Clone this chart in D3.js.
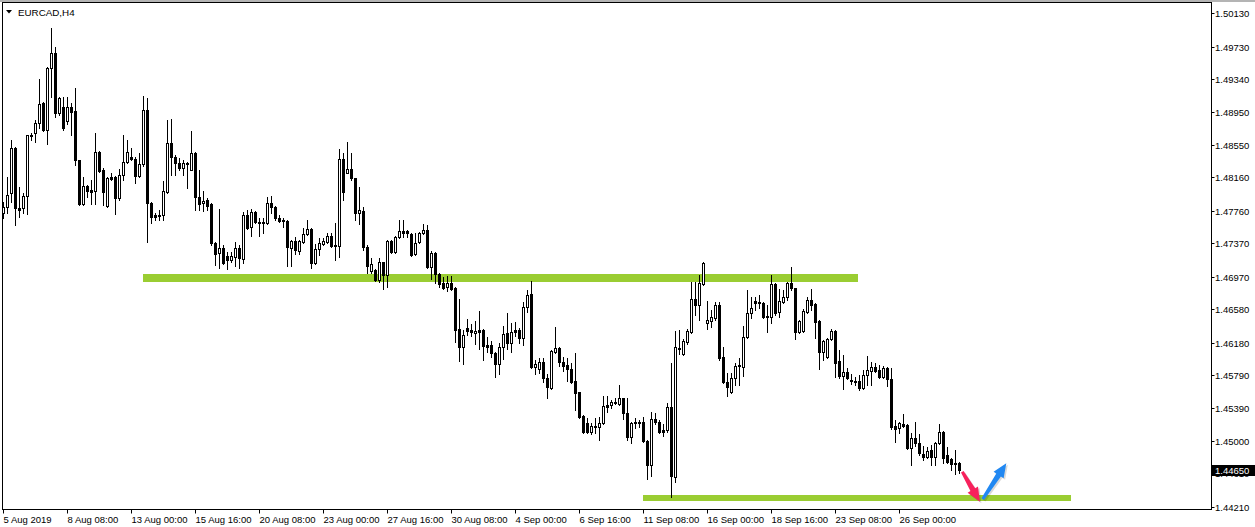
<!DOCTYPE html>
<html>
<head>
<meta charset="utf-8">
<script src="https://cdn.jsdelivr.net/npm/d3@7"></script>
<style>
  body { margin: 0; background: #fff; }
  svg { display: block; font-family: "Liberation Sans", Arial, sans-serif; }
</style>
</head>
<body>
<svg id="chart" width="1255" height="527"></svg>
<script>
// EURCAD H4 candles, first bar 5 Aug 2019 16:00, 240 bars
var opens = [
1.47734,1.47806,1.47974,1.48514,1.47794,1.47794,1.47938,1.48658,1.48694,1.48814,
1.49054,1.48730,1.49474,1.49654,1.48934,1.49006,1.48838,1.49006,1.48958,1.48370,
1.47842,1.48058,1.48010,1.47998,1.48466,1.48250,1.47818,1.48166,1.48166,1.47914,
1.48190,1.48346,1.48406,1.48382,1.48178,1.48322,1.48970,1.47854,1.47710,1.47698,
1.47710,1.47986,1.48574,1.48406,1.48334,1.48274,1.48334,1.48250,1.48454,1.47926,
1.47854,1.47890,1.47842,1.47374,1.47254,1.47314,1.47218,1.47170,1.47206,1.47314,
1.47182,1.47710,1.47566,1.47746,1.47626,1.47614,1.47614,1.47854,1.47806,1.47674,
1.47650,1.47638,1.47314,1.47398,1.47278,1.47386,1.47482,1.47542,1.47134,1.47302,
1.47362,1.47386,1.47458,1.47350,1.47338,1.48382,1.48214,1.48262,1.48154,1.47734,
1.47758,1.47326,1.47038,1.47050,1.46930,1.47146,1.46990,1.47398,1.47266,1.47446,
1.47518,1.47518,1.47482,1.47242,1.47386,1.47494,1.47530,1.47086,1.47254,1.47002,
1.46894,1.46846,1.46894,1.46834,1.46342,1.46126,1.46354,1.46330,1.46294,1.46330,
1.46330,1.46150,1.46150,1.46054,1.45922,1.46126,1.46294,1.46174,1.46330,1.46330,
1.46234,1.46606,1.46762,1.45886,1.45862,1.45946,1.45754,1.45634,1.46066,1.46114,
1.45946,1.45910,1.45862,1.45718,1.45586,1.45298,1.45214,1.45106,1.45178,1.45166,
1.45214,1.45430,1.45430,1.45466,1.45442,1.45514,1.45334,1.45046,1.45226,1.45226,
1.45226,1.44998,1.44710,1.45262,1.45226,1.45130,1.45130,1.45406,1.44566,1.46102,
1.46042,1.46186,1.46306,1.46702,1.46630,1.46882,1.46414,1.46438,1.46474,1.46630,
1.46006,1.45706,1.45586,1.45754,1.45898,1.45886,1.46246,1.46534,1.46678,1.46666,
1.46654,1.46498,1.46486,1.46882,1.46546,1.46666,1.46726,1.46894,1.46834,1.46306,
1.46318,1.46546,1.46690,1.46642,1.46438,1.46066,1.46006,1.46222,1.46318,1.45958,
1.45778,1.45826,1.45730,1.45718,1.45718,1.45634,1.45790,1.45838,1.45886,1.45850,
1.45766,1.45874,1.45742,1.45178,1.45154,1.45202,1.45190,1.44914,1.45034,1.44974,
1.44842,1.44806,1.44890,1.44806,1.44974,1.45106,1.44830,1.44782,1.44734,1.44734
];
var highs = [
1.47866,1.48166,1.48610,1.48526,1.48046,1.47974,1.48670,1.48694,1.48850,1.49342,
1.49066,1.49486,1.49954,1.49726,1.49126,1.49126,1.49126,1.49054,1.49234,1.48370,
1.48166,1.48070,1.48130,1.48694,1.48478,1.48274,1.48166,1.48214,1.48178,1.48262,
1.48670,1.48610,1.48514,1.48406,1.48454,1.49138,1.49114,1.47866,1.47734,1.47770,
1.48118,1.48850,1.48862,1.48430,1.48394,1.48370,1.48346,1.48718,1.48466,1.48250,
1.47998,1.47914,1.47854,1.47386,1.47782,1.47350,1.47266,1.47266,1.47386,1.47350,
1.47746,1.47770,1.47782,1.47758,1.47674,1.47674,1.47926,1.47938,1.47818,1.47710,
1.47674,1.47650,1.47410,1.47446,1.47410,1.47554,1.47650,1.47554,1.47362,1.47434,
1.47434,1.47494,1.47494,1.47614,1.48502,1.48454,1.48586,1.48454,1.48154,1.48046,
1.47806,1.47350,1.47194,1.47062,1.47194,1.47146,1.47410,1.47410,1.47458,1.47650,
1.47650,1.47530,1.47494,1.47494,1.47506,1.47602,1.47590,1.47278,1.47266,1.47014,
1.46966,1.46978,1.46978,1.46846,1.46702,1.46330,1.46462,1.46402,1.46438,1.46558,
1.46342,1.46246,1.46198,1.46066,1.46174,1.46378,1.46534,1.46414,1.46426,1.46354,
1.46666,1.46810,1.46918,1.45970,1.45994,1.45994,1.45802,1.46090,1.46366,1.46126,
1.46006,1.45994,1.45934,1.46054,1.45586,1.45310,1.45274,1.45214,1.45274,1.45286,
1.45538,1.45538,1.45490,1.45514,1.45670,1.45514,1.45514,1.45226,1.45274,1.45250,
1.45286,1.45010,1.45346,1.45334,1.45250,1.45202,1.45454,1.45934,1.46318,1.46330,
1.46222,1.46342,1.46906,1.46906,1.46990,1.47146,1.46678,1.46570,1.46666,1.46666,
1.46126,1.45814,1.45814,1.45934,1.45994,1.46378,1.46810,1.46726,1.46726,1.46750,
1.46666,1.46630,1.46990,1.46894,1.46822,1.46810,1.46906,1.47086,1.46834,1.46450,
1.46582,1.46726,1.46822,1.46654,1.46450,1.46210,1.46234,1.46342,1.46330,1.46090,
1.46030,1.45874,1.45802,1.45766,1.45790,1.45850,1.46018,1.45946,1.45934,1.45910,
1.45898,1.45886,1.45874,1.45250,1.45226,1.45322,1.45202,1.45094,1.45226,1.45082,
1.44938,1.44926,1.44950,1.44986,1.45202,1.45118,1.44926,1.44794,1.44890,1.44746
];
var lows = [
1.47674,1.47734,1.47866,1.47590,1.47686,1.47734,1.47722,1.48610,1.48586,1.48754,
1.48718,1.48562,1.49126,1.48886,1.48910,1.48730,1.48802,1.48670,1.48310,1.47830,
1.47830,1.47926,1.47842,1.47842,1.48226,1.47830,1.47806,1.48130,1.47722,1.47890,
1.48130,1.48334,1.48370,1.48094,1.48166,1.48298,1.47386,1.47614,1.47650,1.47650,
1.47650,1.47974,1.48190,1.48190,1.48250,1.48190,1.48034,1.48250,1.47770,1.47770,
1.47758,1.47770,1.47350,1.47110,1.47074,1.47122,1.47062,1.47146,1.47098,1.47074,
1.47134,1.47542,1.47458,1.47614,1.47458,1.47494,1.47602,1.47734,1.47650,1.47626,
1.47566,1.47098,1.47098,1.47242,1.47242,1.47374,1.47470,1.47074,1.47122,1.47230,
1.47350,1.47374,1.47326,1.47170,1.47206,1.47890,1.48214,1.48130,1.47650,1.47602,
1.47290,1.47014,1.47014,1.46918,1.46906,1.46822,1.46846,1.47254,1.47254,1.47434,
1.47446,1.47446,1.47218,1.47230,1.47374,1.47482,1.47074,1.46942,1.46894,1.46846,
1.46822,1.46798,1.46810,1.46186,1.45958,1.45922,1.46270,1.46258,1.46162,1.46102,
1.45970,1.46066,1.46006,1.45766,1.45802,1.45982,1.46102,1.46066,1.46258,1.46174,
1.46150,1.46546,1.45874,1.45802,1.45814,1.45706,1.45514,1.45622,1.46054,1.45898,
1.45838,1.45718,1.45694,1.45370,1.45274,1.45094,1.45094,1.45082,1.45094,1.45010,
1.45202,1.45346,1.45394,1.45442,1.45430,1.45262,1.45010,1.44974,1.45154,1.45166,
1.44986,1.44542,1.44578,1.45202,1.45094,1.45058,1.45106,1.44326,1.44506,1.46042,
1.46030,1.46162,1.46294,1.46510,1.46450,1.46870,1.46342,1.46366,1.46450,1.45970,
1.45694,1.45538,1.45574,1.45670,1.45670,1.45778,1.46234,1.46474,1.46570,1.46594,
1.46474,1.46306,1.46414,1.46510,1.46486,1.46654,1.46690,1.46810,1.46222,1.46294,
1.46306,1.46534,1.46570,1.46234,1.45862,1.45970,1.45994,1.46210,1.45766,1.45754,
1.45622,1.45742,1.45682,1.45670,1.45610,1.45622,1.45670,1.45670,1.45826,1.45754,
1.45754,1.45658,1.45142,1.44986,1.45094,1.45166,1.44902,1.44710,1.44938,1.44830,
1.44770,1.44794,1.44710,1.44710,1.44962,1.44734,1.44734,1.44650,1.44602,1.44614
];
var closes = [
1.47806,1.47950,1.48514,1.47794,1.47770,1.47938,1.48670,1.48670,1.48814,1.49042,
1.48730,1.49474,1.49654,1.48934,1.49114,1.48754,1.49006,1.48946,1.48370,1.47842,
1.48058,1.47998,1.47986,1.48466,1.48238,1.47986,1.48154,1.48142,1.47914,1.48190,
1.48346,1.48466,1.48382,1.48178,1.48322,1.48970,1.47854,1.47686,1.47686,1.47710,
1.47998,1.48574,1.48406,1.48334,1.48274,1.48334,1.48322,1.48454,1.47926,1.47842,
1.47878,1.47818,1.47374,1.47242,1.47314,1.47134,1.47170,1.47218,1.47314,1.47194,
1.47710,1.47554,1.47746,1.47626,1.47614,1.47626,1.47854,1.47806,1.47674,1.47638,
1.47638,1.47326,1.47398,1.47290,1.47398,1.47482,1.47542,1.47134,1.47302,1.47374,
1.47398,1.47458,1.47338,1.47338,1.48382,1.47986,1.48262,1.48154,1.47734,1.47770,
1.47326,1.47098,1.47122,1.46930,1.47146,1.46990,1.47398,1.47266,1.47446,1.47518,
1.47494,1.47494,1.47230,1.47374,1.47494,1.47530,1.47086,1.47254,1.47002,1.46882,
1.46834,1.46894,1.46822,1.46330,1.46126,1.46270,1.46318,1.46306,1.46318,1.46306,
1.46138,1.46126,1.46054,1.45922,1.46126,1.46282,1.46174,1.46306,1.46306,1.46234,
1.46606,1.46750,1.45886,1.45922,1.45946,1.45754,1.45646,1.46078,1.46114,1.45946,
1.45898,1.45862,1.45706,1.45574,1.45286,1.45106,1.45106,1.45178,1.45166,1.45214,
1.45418,1.45406,1.45466,1.45454,1.45514,1.45334,1.45046,1.45214,1.45214,1.45214,
1.44998,1.44710,1.45262,1.45226,1.45106,1.45106,1.45406,1.44578,1.46126,1.46114,
1.46198,1.46318,1.46702,1.46630,1.46894,1.47134,1.46450,1.46486,1.46630,1.45994,
1.45706,1.45646,1.45754,1.45898,1.45910,1.46246,1.46534,1.46594,1.46654,1.46654,
1.46486,1.46486,1.46882,1.46534,1.46678,1.46726,1.46894,1.46834,1.46306,1.46438,
1.46558,1.46690,1.46630,1.46426,1.46066,1.46198,1.46222,1.46318,1.45934,1.45778,
1.45826,1.45754,1.45718,1.45706,1.45634,1.45790,1.45850,1.45886,1.45838,1.45766,
1.45874,1.45742,1.45166,1.45142,1.45214,1.45178,1.44914,1.45034,1.44974,1.44854,
1.44806,1.44878,1.44806,1.44974,1.45106,1.44794,1.44746,1.44722,1.44728,1.44650
];

var timeTicks = [0,16,32,48,64,80,96,112,128,144,160,176,192,208,224];
var timeLabels = ["5 Aug 2019","8 Aug 08:00","13 Aug 00:00","15 Aug 16:00","20 Aug 08:00",
  "23 Aug 00:00","27 Aug 16:00","30 Aug 08:00","4 Sep 00:00","6 Sep 16:00",
  "11 Sep 08:00","16 Sep 00:00","18 Sep 16:00","23 Sep 08:00","26 Sep 00:00"];
var priceTicks = [1.50130,1.49730,1.49340,1.48950,1.48550,1.48160,1.47760,1.47370,
  1.46970,1.46580,1.46180,1.45790,1.45390,1.45000,1.44610,1.44210];
var lastPrice = 1.44650;

// horizontal levels (bar index range, price)
var levelFrom = [34.9, 159.9];
var levelTo = [213.6, 266.9];
var levelPrice = [1.46960, 1.44314];

// arrows (bar index, price) tail -> tip
var arrowFromBar = [239.7, 244.8];
var arrowFromPrice = [1.44630, 1.44300];
var arrowToBar = [244.1, 250.7];
var arrowToPrice = [1.44270, 1.44730];

var svg = d3.select("#chart");
var W = 1255, H = 527;
var plotRight = 1211, plotBottom = 509;

var x = d3.scaleLinear().domain([0, 239]).range([3.5, 959.5]);
var y = d3.scaleLinear().domain([1.44210, 1.50130]).range([506.7, 13.3]);
var py = function(p) { return Math.round(y(p)); };

svg.append("rect").attr("width", W).attr("height", H).attr("fill", "#fff");
svg.append("rect").attr("x", 0).attr("y", 0).attr("width", W).attr("height", 2).attr("fill", "#b4b4b4");

// levels
var levelW = [8, 6];
svg.append("g").selectAll("rect")
  .data(levelPrice)
  .enter().append("rect")
  .attr("x", function(d, i) { return Math.round(x(levelFrom[i])); })
  .attr("width", function(d, i) { return Math.round(x(levelTo[i]) - x(levelFrom[i])); })
  .attr("y", function(d, i) { return Math.round(y(d) - levelW[i] / 2); })
  .attr("height", function(d, i) { return levelW[i]; })
  .attr("fill", "#9acd32");

// candles
var bars = d3.range(opens.length);
var cg = svg.append("g");
cg.selectAll("rect.wick")
  .data(bars)
  .enter().append("rect")
  .attr("class", "wick")
  .attr("x", function(i) { return x(i) - 0.5; })
  .attr("y", function(i) { return py(highs[i]); })
  .attr("width", 1)
  .attr("height", function(i) { return py(lows[i]) - py(highs[i]) + 1; })
  .attr("fill", "#000");

cg.selectAll("rect.body")
  .data(bars)
  .enter().append("rect")
  .attr("class", "body")
  .attr("x", function(i) { return x(i) - 1.5; })
  .attr("y", function(i) { return Math.min(py(opens[i]), py(closes[i])); })
  .attr("width", 3)
  .attr("height", function(i) { return Math.abs(py(opens[i]) - py(closes[i])) + 1; })
  .attr("fill", "#000");

cg.selectAll("rect.hollow")
  .data(bars.filter(function(i) { return closes[i] > opens[i] && py(opens[i]) - py(closes[i]) >= 2; }))
  .enter().append("rect")
  .attr("class", "hollow")
  .attr("x", function(i) { return x(i) - 0.5; })
  .attr("y", function(i) { return py(closes[i]) + 1; })
  .attr("width", 1)
  .attr("height", function(i) { return py(opens[i]) - py(closes[i]) - 1; })
  .attr("fill", "#fff");

// arrows
function arrowPath(x0, y0, x1, y1, tw, sw, hw, hl) {
  var dx = x1 - x0, dy = y1 - y0, L = Math.sqrt(dx * dx + dy * dy);
  var ux = dx / L, uy = dy / L, nx = -uy, ny = ux;
  var pts = [[0, -tw / 2], [L - hl, -sw / 2], [L - hl, -hw / 2], [L, 0],
             [L - hl, hw / 2], [L - hl, sw / 2], [0, tw / 2]];
  return "M" + pts.map(function(p) {
    return (x0 + ux * p[0] + nx * p[1]).toFixed(2) + "," + (y0 + uy * p[0] + ny * p[1]).toFixed(2);
  }).join("L") + "Z";
}
var arrowColor = ["#f7215c", "#2188f2"];
var ag = svg.append("g");
arrowColor.forEach(function(c, i) {
  var d = arrowPath(x(arrowFromBar[i]), y(arrowFromPrice[i]), x(arrowToBar[i]), y(arrowToPrice[i]), 3, 5.5, 12, 14);
  ag.append("path").attr("d", d).attr("fill", "#000").attr("opacity", 0.15)
    .attr("transform", "translate(1.5,1.5)");
  ag.append("path").attr("d", d).attr("fill", c);
});

// frame
svg.append("rect").attr("x", 2.5).attr("y", 2.5)
  .attr("width", plotRight - 2).attr("height", plotBottom - 2)
  .attr("fill", "none").attr("stroke", "#000");

// price axis
var ya = svg.append("g")
  .attr("transform", "translate(" + plotRight + ",0)")
  .call(d3.axisRight(y).tickValues(priceTicks).tickSize(3).tickPadding(1)
    .tickFormat(d3.format(".5f")));
ya.select(".domain").remove();
ya.selectAll(".tick").attr("transform", function(d) { return "translate(0," + (py(d) + 0.5) + ")"; });
ya.selectAll(".tick line").attr("x1", 0.5).attr("x2", 3.5);
ya.selectAll("text").attr("font-size", "9.5px").attr("font-family", "Liberation Sans, Arial, sans-serif").attr("fill", "#000");

// last price tag (covers the tick label just below it, as in the terminal)
var ly = py(lastPrice);
svg.append("rect").attr("x", plotRight + 1).attr("y", ly - 5).attr("width", W - plotRight - 1).attr("height", 11).attr("fill", "#000");
svg.append("text").attr("x", plotRight + 4).attr("y", ly + 3.5)
  .attr("font-size", "9.5px").attr("fill", "#fff").text(d3.format(".5f")(lastPrice));

// time axis
var xa = svg.append("g")
  .attr("transform", "translate(0," + (plotBottom + 0.5) + ")")
  .call(d3.axisBottom(x).tickValues(timeTicks).tickSize(4).tickPadding(3)
    .tickFormat(function(d, i) { return timeLabels[i]; }));
xa.select(".domain").remove();
xa.selectAll(".tick").attr("transform", function(d) { return "translate(" + (Math.floor(x(d)) + 0.5) + ",0)"; });
xa.selectAll("text").attr("text-anchor", "start").attr("x", 0)
  .attr("font-size", "9.5px").attr("font-family", "Liberation Sans, Arial, sans-serif").attr("fill", "#000");

// symbol title
svg.append("path").attr("d", "M6,10L12,10L9,13.5Z").attr("fill", "#000");
svg.append("text").attr("x", 18).attr("y", 15.5).attr("font-size", "9.8px").attr("fill", "#000").text("EURCAD,H4");
</script>
</body>
</html>
